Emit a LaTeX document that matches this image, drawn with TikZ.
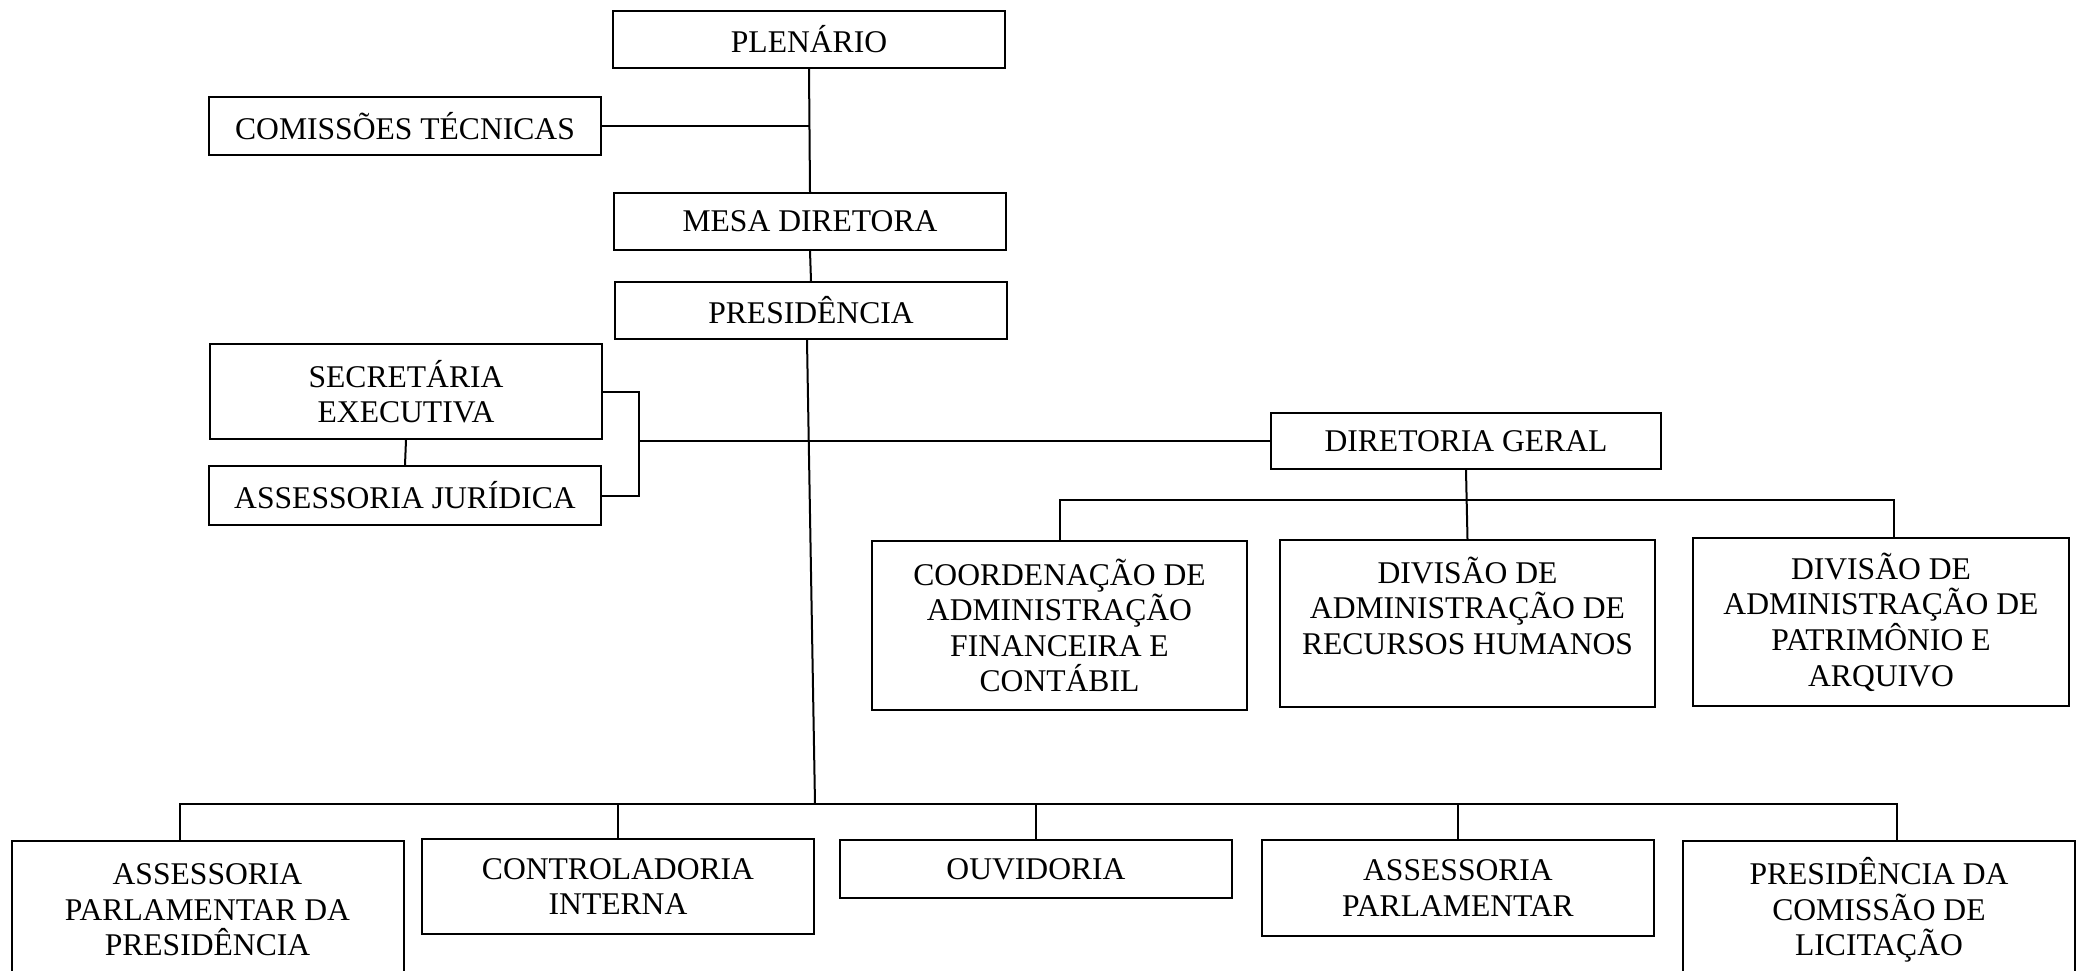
\documentclass[tikz,border=0pt]{standalone}
\usepackage{fontspec}
\setmainfont{Liberation Serif}
\begin{document}
\begin{tikzpicture}[x=0.5pt,y=0.5pt,yscale=-1,
  caixa/.style={draw, line width=1pt, inner sep=2pt, align=center,
    font=\fontsize{15.8}{17.8}\selectfont, minimum width=196pt, minimum height=28.5pt},
  liga/.style={line width=1pt}]
\useasboundingbox (0,0) rectangle (2084,970);
\clip (0,0) rectangle (2084,970);

% Upper boxes
\node[caixa] (plen) at (809,39.5) {PLENÁRIO};
\node[caixa, minimum height=29pt] (com) at (405,126) {COMISSÕES TÉCNICAS};
\node[caixa] (mesa) at (810,221.5) {MESA DIRETORA};
\node[caixa] (pres) at (811,310.5) {PRESIDÊNCIA};
\node[caixa, minimum height=47.5pt] (sec) at (406,391.5) {SECRETÁRIA\\EXECUTIVA};
\node[caixa, minimum height=29.5pt] (aj) at (405,495.5) {ASSESSORIA JURÍDICA};
\node[caixa, minimum width=195pt, minimum height=28pt] (dg) at (1466,441) {DIRETORIA GERAL};

% Boxes under the diretoria
\node[caixa, minimum width=187.5pt, minimum height=84.5pt] (coord) at (1059.5,625.5) {COORDENAÇÃO DE\\ADMINISTRAÇÃO\\FINANCEIRA E\\CONTÁBIL};
\node[caixa, minimum width=187.5pt, minimum height=83.5pt] (rh) at (1467.5,623.5) {DIVISÃO DE\\ADMINISTRAÇÃO DE\\RECURSOS HUMANOS\\\mbox{}};
\node[caixa, minimum width=188pt, minimum height=84pt] (pat) at (1881,622) {DIVISÃO DE\\ADMINISTRAÇÃO DE\\PATRIMÔNIO E\\ARQUIVO};

% Bottom row
\node[caixa, minimum height=69pt] (app) at (207.5,910) {ASSESSORIA\\PARLAMENTAR DA\\PRESIDÊNCIA};
\node[caixa, minimum height=47.5pt] (ci) at (618,886.5) {CONTROLADORIA\\INTERNA};
\node[caixa, minimum height=29pt] (ouv) at (1036,869) {OUVIDORIA};
\node[caixa, minimum height=48pt] (ap) at (1458,888) {ASSESSORIA\\PARLAMENTAR};
\node[caixa, minimum height=69pt] (pcl) at (1879,910) {PRESIDÊNCIA DA\\COMISSÃO DE\\LICITAÇÃO};

% Lines
\coordinate (brk) at (639,441);
\coordinate (desce) at (815,804);
\coordinate (barra) at (1464,500);
\draw[liga] (plen.south) -- (mesa.north);
\draw[liga] (com.east) -- (com.east -| plen.south);
\draw[liga] (mesa.south) -- (pres.north);
\draw[liga] (sec.east) -| (brk) |- (aj.east);
\draw[liga] (sec.south) -- (aj.north);
\draw[liga] (brk) -- (dg.west);
\draw[liga] ([xshift=-2pt]pres.south) -- (desce);
\draw[liga] ([xshift=-14pt]app.north) |- ([xshift=9pt]pcl.north |- desce) -- ([xshift=9pt]pcl.north);
\foreach \n in {ci,ouv,ap}
  \draw[liga] (\n.north) -- (\n.north |- desce);
\draw[liga] (dg.south) -- (rh.north);
\draw[liga] (coord.north) |- ([xshift=6.5pt]pat.north |- barra) -- ([xshift=6.5pt]pat.north);

\end{tikzpicture}
\end{document}
